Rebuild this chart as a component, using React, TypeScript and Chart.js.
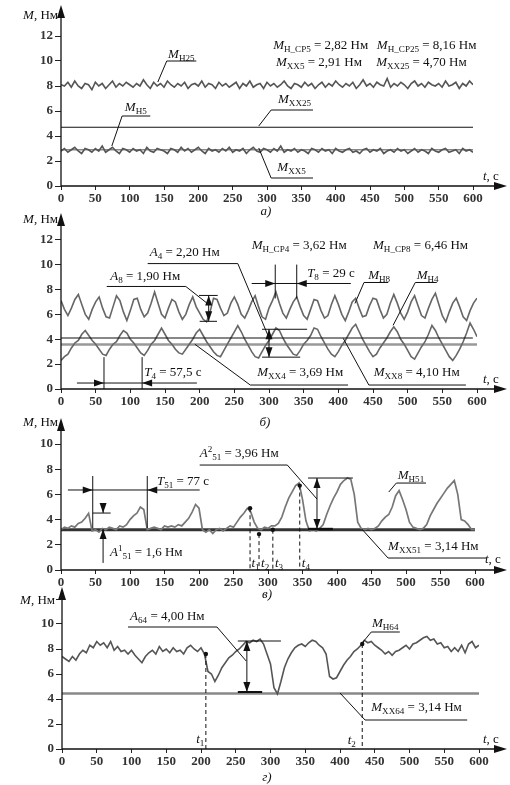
import React, { useEffect, useRef } from 'react';
import { Chart, registerables } from 'chart.js';
Chart.register(...registerables);

// ---------- DATA ----------
const STEP = 5; // seconds between samples
const X_TICKS = [0, 50, 100, 150, 200, 250, 300, 350, 400, 450, 500, 550, 600];

// Panel а)
const M_H25 = [
  8.1, 8.0, 8.3, 7.9, 8.4, 8.0, 7.8, 8.2, 8.1, 7.7,
  8.3, 8.0, 8.2, 7.8, 8.1, 8.4, 7.9, 8.2, 8.0, 8.3,
  8.1, 7.9, 8.2, 8.0, 8.5, 8.1, 7.8, 8.3, 8.0, 8.2,
  7.9, 8.4, 8.1, 7.9, 8.2, 8.0, 8.3, 7.8, 8.1, 8.2,
  8.0, 8.4, 7.9, 8.2, 8.1, 7.8, 8.3, 8.0, 8.2, 7.9,
  8.1, 8.3, 7.8, 8.2, 8.0, 8.4, 7.9, 8.1, 8.2, 7.8,
  8.3, 8.0, 8.2, 7.9, 8.1, 8.4, 8.0, 7.8, 8.2, 8.1,
  7.9, 8.3, 8.0, 8.2, 7.8, 8.1, 8.3, 7.9, 8.2, 8.0,
  8.4, 8.1, 7.9, 8.2, 8.0, 8.3, 7.8, 8.1, 8.5, 8.0,
  8.2, 7.9, 8.3, 8.1, 8.0, 8.6, 7.9, 8.2, 8.0, 8.3,
  8.1, 7.8, 8.2, 8.4, 8.0, 8.2, 7.9, 8.3, 8.1, 8.0,
  8.2, 7.9, 8.4, 8.0, 8.1, 8.3, 7.8, 8.2, 8.0, 8.4,
  8.1,
];
const M_H5 = [
  2.8, 3.0, 2.7, 2.9, 3.1, 2.8, 2.6, 3.0, 2.9, 2.7,
  3.0, 2.8, 3.2, 2.7, 2.9, 3.1, 2.8, 2.6, 3.0, 2.9,
  2.7, 3.0, 2.8, 2.9, 2.6, 3.1, 2.8, 2.7, 3.0, 2.9,
  2.8, 2.6, 3.0, 2.9, 2.7, 3.1, 2.8, 3.0, 2.7, 2.9,
  3.1, 2.8, 2.6, 3.0, 2.8, 2.9, 2.7, 3.0, 2.8, 3.1,
  2.7, 2.9, 2.8, 3.0, 2.6, 2.9, 3.1, 2.8, 2.7, 3.0,
  2.9, 2.7, 3.0, 2.8, 3.2, 2.7, 2.9, 2.8, 3.0, 2.7,
  2.9, 2.8, 2.6, 3.0, 2.9, 2.7, 3.0, 2.8, 2.9, 2.6,
  3.0, 2.8, 2.7, 2.9, 3.0, 2.7, 2.8, 2.6, 2.9, 3.0,
  2.7, 2.9, 2.8, 3.0, 2.6, 2.8, 2.9, 2.7, 3.0, 2.8,
  2.9, 2.6, 2.8, 3.0, 2.7, 2.9, 2.8, 2.6, 3.0, 2.8,
  2.7, 2.9, 3.0, 2.7, 2.8, 2.9, 2.6, 3.0, 2.8, 2.9,
  2.7,
];
const XX25_T = [0, 600];
const XX25_M = [4.7, 4.7];
const XX5_T = [0, 600];
const XX5_M = [2.91, 2.91];

// Panel б)
const M_H8 = [
  7.1, 6.4, 5.9, 6.5, 7.2, 7.6, 6.8, 6.0, 5.6, 6.4,
  7.0, 7.4, 6.5, 5.8, 5.7, 6.6, 7.5, 7.1, 6.2, 5.5,
  6.3, 7.2, 7.3, 6.4, 5.8, 6.1, 6.9, 7.8, 6.9, 6.0,
  5.7, 6.5, 7.2, 7.0, 6.2, 5.6, 6.0, 6.8, 7.4, 6.6,
  6.1, 5.6, 5.4, 6.2, 7.3, 7.2, 6.5, 5.9, 6.1, 6.9,
  7.4, 6.8, 6.0, 5.7, 6.3, 7.0, 7.5, 6.6, 5.8, 5.6,
  6.5, 7.1, 7.8, 6.9, 6.1, 5.7, 6.4, 7.0, 7.4, 6.6,
  5.9, 5.6, 6.4, 7.2, 7.1, 6.3, 5.7, 5.9, 6.8, 7.5,
  6.8, 6.0, 5.5, 6.2, 7.0, 7.3, 6.5, 5.8, 5.9, 6.7,
  7.3, 7.2, 6.4, 5.7, 6.0, 6.9, 7.6, 6.9, 6.1, 5.6,
  6.2, 7.0, 7.5, 6.7, 5.9, 5.7, 6.5, 7.2, 7.7, 6.8,
  5.9, 5.4, 6.2, 6.9, 7.3, 6.6, 5.8, 5.5, 6.3, 6.9,
  7.3,
];
const M_H4 = [
  2.3, 2.6, 2.8, 3.3, 3.7, 3.9, 4.4, 4.7, 4.3, 3.9,
  3.6, 3.2, 2.8, 2.7, 3.2, 3.6, 3.8, 4.3, 4.7, 4.5,
  4.0, 3.7, 3.3, 2.9, 2.7, 3.1, 3.6, 3.9, 4.4, 4.9,
  4.4, 3.9, 3.6, 3.2, 2.9, 2.8, 3.2, 3.6, 4.0, 4.5,
  4.8, 4.3, 3.8, 3.4, 3.0, 2.7, 2.6, 3.1, 3.6, 4.1,
  4.6, 5.1, 4.6, 4.0, 3.5, 3.0, 2.6, 2.5, 3.0, 3.5,
  3.9, 4.4, 4.9, 4.7, 4.1, 3.6, 3.2, 2.8, 2.7, 3.1,
  3.6, 3.9, 4.3, 4.9, 4.8, 4.2, 3.7, 3.2, 2.8, 2.6,
  3.0, 3.5, 3.9, 4.4, 4.9, 5.2, 4.6, 4.0, 3.5, 3.0,
  2.6, 2.8, 3.3, 3.7, 4.1, 4.6, 5.0, 4.6, 4.0, 3.6,
  3.1, 2.6, 2.4, 2.9, 3.4, 3.8, 4.4, 5.1, 4.7, 4.1,
  3.6, 3.1, 2.6, 2.3, 2.7, 3.2, 3.8, 4.5, 5.3, 4.8,
  4.2,
];
const XX8_T = [0, 594];
const XX8_M = [4.1, 4.1];
const XX4_T = [0, 600];
const XX4_M = [3.57, 3.57];

// Panel в)
const M_H51 = [
  3.2, 3.4, 3.3, 3.5, 3.4, 3.7, 3.8, 4.1, 4.5, 3.1,
  3.2, 3.0, 3.3, 3.2, 3.4, 3.3, 3.2, 3.5, 3.4, 3.6,
  4.0, 4.3, 4.5, 5.0, 4.8, 3.2, 3.3, 3.4, 3.3, 3.2,
  3.5, 3.4, 3.5, 3.4, 3.6, 3.5, 3.8, 4.1, 4.6, 5.2,
  4.9, 3.2, 3.0, 3.2, 2.9, 3.2, 3.3, 3.1, 3.3, 3.5,
  3.4, 3.8, 4.2, 4.5, 4.9, 4.6, 3.8, 3.3, 3.2, 3.4,
  3.3, 3.5, 3.5, 3.7, 4.2, 5.0, 5.7, 6.2, 6.7, 6.9,
  5.6, 3.9, 3.1, 3.2, 3.1, 3.3, 3.6, 4.4, 5.1, 5.7,
  6.2, 6.8, 7.1, 7.3, 7.2, 6.0, 3.8, 3.3, 3.2, 3.3,
  3.2, 3.3, 3.5, 3.9, 4.2, 4.4, 5.0, 5.9, 6.3, 5.6,
  4.8, 3.8, 3.4, 3.3, 3.2, 3.3, 3.6, 4.3, 4.8, 5.3,
  5.7, 6.1, 6.5, 6.8, 7.1, 6.0, 4.0, 3.9, 3.6, 3.2,
  3.2,
];
const XX51_T = [0, 600];
const XX51_M = [3.2, 3.2];

// Panel г)
const M_H64 = [
  7.4, 7.2, 7.0, 7.4, 7.1, 7.6, 7.9, 7.7, 8.3, 8.1,
  8.6, 8.3, 8.5, 8.1, 8.6, 7.9, 8.2, 7.8, 7.9, 7.6,
  7.9, 7.5, 7.2, 6.9, 7.4, 7.7, 7.9, 7.6, 8.2, 7.8,
  8.0, 7.7, 8.1, 7.8, 7.9, 7.6, 8.1, 8.3, 8.0, 7.8,
  8.1, 7.6, 6.2, 6.0, 5.4, 5.9, 6.5, 6.9, 7.3, 7.5,
  7.8, 8.0, 8.3, 8.6, 8.5, 8.7, 8.6, 8.8, 8.4, 7.6,
  6.8, 4.9, 4.4, 5.4, 6.5, 7.2, 7.7, 8.1, 8.3, 8.4,
  8.2, 8.5, 8.7, 8.6, 8.3, 8.1, 7.6, 5.8, 5.6, 5.7,
  6.2, 6.7, 7.1, 7.4, 7.8, 8.0, 8.3, 8.7, 8.5, 8.6,
  8.3, 8.1, 7.9, 7.6, 7.8, 7.5, 7.8, 7.9, 8.1, 8.3,
  8.0, 8.4, 8.5, 8.7, 8.9, 9.0, 8.7, 8.8, 8.4, 8.5,
  8.1, 8.2, 7.8, 8.1, 7.8, 8.3, 7.7, 8.4, 8.6, 8.1,
  8.3,
];
const XX64_T = [0, 600];
const XX64_M = [4.45, 4.45];

// ---------- HELPERS ----------
type Seg = [string, string];
const FONT = '"Liberation Serif", "Times New Roman", serif';
const FS = 13;

const series = (vals: number[]) => vals.map((v, i) => ({ x: i * STEP, y: v }));
const pairs = (ts: number[], ms: number[]) => ts.map((t, i) => ({ x: t, y: ms[i] }));

function drawRich(ctx: CanvasRenderingContext2D, segs: Seg[], x: number, y: number, align = 'left', size = FS) {
  const parts = segs.map(([t, s]) => {
    const small = s === 'sub' || s === 'sup';
    const fs = small ? size * 0.7 : size;
    const font = `${s === 'i' ? 'italic ' : ''}${fs}px ${FONT}`;
    ctx.font = font;
    const w = ctx.measureText(t).width;
    const dy = s === 'sub' ? size * 0.3 : s === 'sup' ? -size * 0.35 : 0;
    return { t, font, w, dy };
  });
  const total = parts.reduce((a, p) => a + p.w, 0);
  let cx = align === 'center' ? x - total / 2 : align === 'right' ? x - total : x;
  ctx.textBaseline = 'middle';
  ctx.textAlign = 'left';
  for (const p of parts) {
    ctx.font = p.font;
    ctx.fillText(p.t, cx, y + p.dy);
    cx += p.w;
  }
}

function head(ctx: CanvasRenderingContext2D, x: number, y: number, dir: string, len = 10, hw = 3.5) {
  ctx.beginPath();
  ctx.moveTo(x, y);
  if (dir === 'r') { ctx.lineTo(x - len, y - hw); ctx.lineTo(x - len, y + hw); }
  if (dir === 'l') { ctx.lineTo(x + len, y - hw); ctx.lineTo(x + len, y + hw); }
  if (dir === 'u') { ctx.lineTo(x - hw, y + len); ctx.lineTo(x + hw, y + len); }
  if (dir === 'd') { ctx.lineTo(x - hw, y - len); ctx.lineTo(x + hw, y - len); }
  ctx.closePath();
  ctx.fill();
}

type Ann = {
  lines?: { pts: number[][]; w?: number; dash?: number[] }[];
  heads?: { at: number[]; dir: string }[];
  dots?: number[][];
  texts?: { at: number[]; segs: Seg[] }[];
  px?: { at: number[]; segs: Seg[]; align?: string }[];
};

const M = (sub: string, rest = ''): Seg[] => (rest ? [['M', 'i'], [sub, 'sub'], [rest, '']] : [['M', 'i'], [sub, 'sub']]);
const YT: Seg[] = [['M', 'i'], [', Нм', '']];
const XT: Seg[] = [['t', 'i'], [', с', '']];
const tl = (n: string): Seg[] => [['t', 'i'], [n, 'sub']];

type Cfg = {
  top: number; h: number; L: number; R: number; T: number; B: number; yMax: number; tipY: number;
  hideTop?: boolean;
  ds: { data: { x: number; y: number }[]; color: string; w: number }[];
  ann: Ann;
};

const annPlugin = {
  id: 'ann',
  afterDraw(chart: any) {
    const cfg: Cfg = chart.options.plugins.ann.cfg;
    const ctx: CanvasRenderingContext2D = chart.ctx;
    const xs = chart.scales.x, ys = chart.scales.y;
    const P = (p: number[]) => [xs.getPixelForValue(p[0]), ys.getPixelForValue(p[1])];
    const a = chart.chartArea;
    ctx.save();
    ctx.strokeStyle = '#111';
    ctx.fillStyle = '#111';
    // axes
    ctx.lineWidth = 1.3;
    ctx.beginPath();
    ctx.moveTo(a.left, a.bottom); ctx.lineTo(a.left, cfg.tipY + 8);
    ctx.moveTo(a.left, a.bottom); ctx.lineTo(498, a.bottom);
    ctx.stroke();
    head(ctx, a.left, cfg.tipY, 'u', 13, 4);
    head(ctx, 507, a.bottom, 'r', 13, 4);
    const an = cfg.ann;
    ctx.lineWidth = 1;
    for (const l of an.lines || []) {
      ctx.lineWidth = l.w || 1;
      ctx.setLineDash(l.dash || []);
      ctx.beginPath();
      l.pts.forEach((p, i) => {
        const [x, y] = P(p);
        if (i === 0) ctx.moveTo(x, y); else ctx.lineTo(x, y);
      });
      ctx.stroke();
    }
    ctx.setLineDash([]);
    for (const h of an.heads || []) {
      const [x, y] = P(h.at);
      head(ctx, x, y, h.dir);
    }
    for (const d of an.dots || []) {
      const [x, y] = P(d);
      ctx.beginPath(); ctx.arc(x, y, 2.2, 0, Math.PI * 2); ctx.fill();
    }
    for (const t of an.texts || []) {
      const [x, y] = P(t.at);
      drawRich(ctx, t.segs, x, y);
    }
    for (const t of an.px || []) drawRich(ctx, t.segs, t.at[0], t.at[1], t.align || 'left');
    ctx.restore();
  },
};

// ---------- PANELS ----------
const GRAY = '#555';

const P1: Cfg = {
  top: 0, h: 220, L: 61, R: 473, T: 36, B: 186, yMax: 12, tipY: 5,
  ds: [
    { data: pairs(XX25_T, XX25_M), color: '#111', w: 1.2 },
    { data: series(M_H25), color: GRAY, w: 1.6 },
    { data: series(M_H5), color: GRAY, w: 1.6 },
    { data: pairs(XX5_T, XX5_M), color: '#888', w: 1.5 },
  ],
  ann: {
    texts: [
      { at: [309, 11.2], segs: M('Н_СР5', ' = 2,82 Нм') },
      { at: [460, 11.2], segs: M('Н_СР25', ' = 8,16 Нм') },
      { at: [313, 9.84], segs: M('ХХ5', ' = 2,91 Нм') },
      { at: [459, 9.84], segs: M('ХХ25', ' = 4,70 Нм') },
      { at: [156, 10.48], segs: M('Н25') },
      { at: [93, 6.24], segs: M('Н5') },
      { at: [316, 6.88], segs: M('ХХ25') },
      { at: [315, 1.44], segs: M('ХХ5') },
    ],
    lines: [
      { pts: [[197, 10], [154, 10], [141, 8.32]] },
      { pts: [[130, 5.6], [89, 5.6], [74, 3.2]] },
      { pts: [[367, 6.08], [306, 6.08], [288, 4.8]] },
      { pts: [[367, 0.64], [306, 0.64], [288, 3.04]] },
    ],
    px: [
      { at: [58, 16], segs: YT, align: 'right' },
      { at: [483, 177], segs: XT },
      { at: [266, 212], segs: [['а)', 'i']], align: 'center' },
    ],
  },
};

const P2: Cfg = {
  top: 208, h: 222, L: 61, R: 477, T: 31.7, B: 181, yMax: 12, tipY: 5,
  ds: [
    { data: pairs(XX8_T, XX8_M), color: '#111', w: 1.2 },
    { data: series(M_H8), color: '#666', w: 1.6 },
    { data: series(M_H4), color: '#666', w: 1.6 },
    { data: pairs(XX4_T, XX4_M), color: '#999', w: 2.5 },
  ],
  ann: {
    texts: [
      { at: [128, 10.96], segs: [['A', 'i'], ['4', 'sub'], [' = 2,20 Нм', '']] },
      { at: [71, 9.04], segs: [['A', 'i'], ['8', 'sub'], [' = 1,90 Нм', '']] },
      { at: [275, 11.52], segs: M('Н_СР4', ' = 3,62 Нм') },
      { at: [450, 11.52], segs: M('Н_СР8', ' = 6,46 Нм') },
      { at: [355, 9.28], segs: [['T', 'i'], ['8', 'sub'], [' = 29 с', '']] },
      { at: [443, 9.12], segs: M('Н8') },
      { at: [513, 9.12], segs: M('Н4') },
      { at: [283, 1.28], segs: M('ХХ4', ' = 3,69 Нм') },
      { at: [451, 1.28], segs: M('ХХ8', ' = 4,10 Нм') },
      { at: [120, 1.28], segs: [['T', 'i'], ['4', 'sub'], [' = 57,5 с', '']] },
    ],
    lines: [
      { pts: [[125, 10.08], [255, 10.08], [299, 4.24]] },
      { pts: [[290, 4.8], [355, 4.8]] },
      { pts: [[290, 2.56], [345, 2.56]] },
      { pts: [[300, 4.8], [300, 2.56]] },
      { pts: [[66, 8.24], [180, 8.24], [211, 6.88]] },
      { pts: [[199, 7.52], [226, 7.52]] },
      { pts: [[200, 5.44], [225, 5.44]] },
      { pts: [[213, 7.52], [213, 5.44]] },
      { pts: [[309, 10], [309, 7.28]] },
      { pts: [[340, 10], [340, 7.28]] },
      { pts: [[275, 8.48], [418, 8.48]] },
      { pts: [[472, 8.56], [437, 8.56], [424, 6.88]] },
      { pts: [[542, 8.56], [511, 8.56], [479, 5.12]] },
      { pts: [[414, 0.32], [273, 0.32], [193, 3.6]] },
      { pts: [[584, 0.32], [444, 0.32], [407, 4.08]] },
      { pts: [[62, 2.56], [62, 0]] },
      { pts: [[117, 2.56], [117, 0]] },
      { pts: [[23, 0.48], [196, 0.48]] },
    ],
    heads: [
      { at: [300, 4.8], dir: 'u' }, { at: [300, 2.56], dir: 'd' },
      { at: [213, 7.52], dir: 'u' }, { at: [213, 5.44], dir: 'd' },
      { at: [309, 8.48], dir: 'r' }, { at: [340, 8.48], dir: 'l' },
      { at: [62, 0.48], dir: 'r' }, { at: [117, 0.48], dir: 'l' },
    ],
    px: [
      { at: [58, 12], segs: YT, align: 'right' },
      { at: [483, 172], segs: XT },
      { at: [265, 215], segs: [['б)', 'i']], align: 'center' },
    ],
  },
};

const P3: Cfg = {
  top: 414, h: 196, L: 61, R: 475, T: 30, B: 156, yMax: 10, tipY: 4,
  ds: [
    { data: series(M_H51), color: '#777', w: 1.7 },
    { data: pairs(XX51_T, XX51_M), color: '#333', w: 3 },
  ],
  ann: {
    texts: [
      { at: [201, 9.21], segs: [['A', 'i'], ['2', 'sup'], ['51', 'sub'], [' = 3,96 Нм', '']] },
      { at: [139, 6.98], segs: [['T', 'i'], ['51', 'sub'], [' = 77 с', '']] },
      { at: [71, 1.35], segs: [['A', 'i'], ['1', 'sup'], ['51', 'sub'], [' = 1,6 Нм', '']] },
      { at: [488, 7.46], segs: M('Н51') },
      { at: [474, 1.83], segs: M('ХХ51', ' = 3,14 Нм') },
      { at: [276, 0.48], segs: tl('1') },
      { at: [290, 0.48], segs: tl('2') },
      { at: [310, 0.48], segs: tl('3') },
      { at: [349, 0.48], segs: tl('4') },
    ],
    lines: [
      { pts: [[201, 8.33], [328, 8.33], [371, 5.63]] },
      { pts: [[358, 7.3], [423, 7.3]] },
      { pts: [[358, 3.25], [394, 3.25]], w: 2.5 },
      { pts: [[371, 7.3], [371, 3.25]] },
      { pts: [[346, 6.7], [346, 0]], dash: [4, 3] },
      { pts: [[274, 4.9], [274, 0]], dash: [4, 3] },
      { pts: [[287, 2.85], [287, 0]], dash: [4, 3] },
      { pts: [[307, 3.2], [307, 0]], dash: [4, 3] },
      { pts: [[46, 7.46], [46, 3.33]] },
      { pts: [[125, 7.46], [125, 3.33]] },
      { pts: [[10, 6.35], [201, 6.35]] },
      { pts: [[46, 4.52], [72, 4.52]] },
      { pts: [[61, 5.16], [61, 4.52]] },
      { pts: [[61, 0.56], [61, 3.25]] },
      { pts: [[529, 6.9], [486, 6.9], [475, 6.19]] },
      { pts: [[617, 0.95], [474, 0.95], [436, 3.25]] },
    ],
    heads: [
      { at: [371, 7.3], dir: 'u' }, { at: [371, 3.25], dir: 'd' },
      { at: [46, 6.35], dir: 'r' }, { at: [125, 6.35], dir: 'l' },
      { at: [61, 4.52], dir: 'd' }, { at: [61, 3.25], dir: 'u' },
    ],
    dots: [[346, 6.7], [274, 4.9], [287, 2.85], [307, 3.2]],
    px: [
      { at: [58, 9], segs: YT, align: 'right' },
      { at: [485, 146], segs: XT },
      { at: [267, 181], segs: [['в)', 'i']], align: 'center' },
    ],
  },
};

const P4: Cfg = {
  top: 584, h: 201, L: 62, R: 479, T: 15, B: 165, yMax: 12, tipY: 3, hideTop: true,
  ds: [
    { data: series(M_H64), color: GRAY, w: 1.6 },
    { data: pairs(XX64_T, XX64_M), color: '#888', w: 2.5 },
  ],
  ann: {
    texts: [
      { at: [98, 10.56], segs: [['A', 'i'], ['64', 'sub'], [' = 4,00 Нм', '']] },
      { at: [446, 10.0], segs: M('Н64') },
      { at: [445, 3.28], segs: M('ХХ64', ' = 3,14 Нм') },
      { at: [193, 0.72], segs: tl('1') },
      { at: [411, 0.64], segs: tl('2') },
    ],
    lines: [
      { pts: [[95, 9.76], [223, 9.76], [265, 7.04]] },
      { pts: [[253, 8.64], [315, 8.64]] },
      { pts: [[253, 4.56], [288, 4.56]], w: 2 },
      { pts: [[266, 8.64], [266, 4.56]] },
      { pts: [[207, 7.6], [207, 0]], dash: [4, 3] },
      { pts: [[432, 8.4], [432, 0]], dash: [4, 3] },
      { pts: [[486, 9.36], [445, 9.36], [432, 8.48]] },
      { pts: [[583, 2.32], [436, 2.32], [400, 4.48]] },
    ],
    heads: [{ at: [266, 8.64], dir: 'u' }, { at: [266, 4.56], dir: 'd' }],
    dots: [[207, 7.6], [432, 8.4]],
    px: [
      { at: [55, 17], segs: YT, align: 'right' },
      { at: [483, 156], segs: XT },
      { at: [267, 194], segs: [['г)', 'i']], align: 'center' },
    ],
  },
};

function Panel({ cfg }: { cfg: Cfg }) {
  const ref = useRef<HTMLCanvasElement>(null);
  useEffect(() => {
    const tickFont = { family: FONT, size: 13, weight: 'bold' as const };
    const chart = new Chart(ref.current as HTMLCanvasElement, {
      type: 'line',
      data: {
        datasets: cfg.ds.map((d) => ({
          data: d.data,
          borderColor: d.color,
          borderWidth: d.w,
          pointRadius: 0,
          tension: 0,
          fill: false,
        })),
      },
      options: {
        animation: false,
        responsive: false,
        devicePixelRatio: 1,
        events: [],
        layout: { padding: { left: 0, top: cfg.T, right: 510 - cfg.R, bottom: 0 } },
        plugins: { legend: { display: false }, tooltip: { enabled: false }, ann: { cfg } } as any,
        scales: {
          x: {
            type: 'linear',
            min: 0,
            max: 600,
            afterFit: (s: any) => { s.height = cfg.h - cfg.B; },
            afterBuildTicks: (s: any) => { s.ticks = X_TICKS.map((v) => ({ value: v })); },
            border: { display: false },
            grid: { drawOnChartArea: false, drawTicks: true, tickLength: 4, color: '#222' },
            ticks: { autoSkip: false, maxRotation: 0, padding: 1, color: '#333', font: tickFont },
          },
          y: {
            type: 'linear',
            min: 0,
            max: cfg.yMax,
            afterFit: (s: any) => { s.width = cfg.L; },
            border: { display: false },
            grid: { drawOnChartArea: false, drawTicks: true, tickLength: 6, color: '#222' },
            ticks: {
              stepSize: 2,
              padding: 2,
              color: '#333',
              font: tickFont,
              callback: (v: any) => (cfg.hideTop && v === cfg.yMax ? '' : String(v)),
            },
          },
        },
      },
      plugins: [annPlugin],
    } as any);
    return () => chart.destroy();
  }, [cfg]);
  return (
    <canvas
      ref={ref}
      width={510}
      height={cfg.h}
      style={{ position: 'absolute', left: 0, top: cfg.top, width: 510, height: cfg.h }}
    />
  );
}

export default function App() {
  return (
    <div style={{ position: 'absolute', left: 0, top: 0, width: 510, height: 785, background: '#fff' }}>
      <Panel cfg={P1} />
      <Panel cfg={P2} />
      <Panel cfg={P3} />
      <Panel cfg={P4} />
    </div>
  );
}
